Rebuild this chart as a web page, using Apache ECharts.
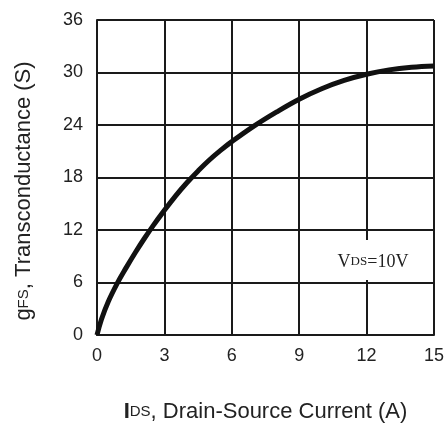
<!DOCTYPE html>
<html>
<head>
<meta charset="utf-8">
<script src="https://cdn.jsdelivr.net/npm/echarts@6/dist/echarts.min.js"></script>
<style>
  html, body { margin: 0; padding: 0; background: #fff; }
  #chart { width: 447px; height: 430px; }
</style>
</head>
<body>
<div id="chart"></div>
<script>
// drain current (A) and transconductance (S)
var currentA = [0, 0.2, 0.5, 0.9, 1.3, 1.7, 2.1, 2.5, 2.9, 3.5, 4.0, 4.5, 5.0, 5.5, 6, 7, 8, 9, 10, 11, 12, 13, 14, 15];
var gfsS = [0, 1.8, 3.8, 5.9, 7.7, 9.4, 11.0, 12.5, 13.9, 15.9, 17.4, 18.75, 20.0, 21.1, 22.1, 23.9, 25.5, 26.95, 28.15, 29.1, 29.8, 30.3, 30.6, 30.75];

var xTicks = [0, 3, 6, 9, 12, 15];
var yTicks = [0, 6, 12, 18, 24, 30, 36];

var points = [];
for (var i = 0; i < currentA.length; i++) {
  points.push([currentA[i], gfsS[i]]);
}

var chart = echarts.init(document.getElementById('chart'));
var lineColor = '#1a1a1a';
var sans = 'Liberation Sans, Arial, sans-serif';
var serif = 'Liberation Serif, Times New Roman, serif';

var option = {
  animation: false,
  backgroundColor: '#fff',
  grid: { left: 97, right: 12, top: 20, bottom: 95 },
  xAxis: {
    type: 'value',
    min: xTicks[0],
    max: xTicks[xTicks.length - 1],
    interval: 3,
    name: '{i|I}{s|DS}{t|, Drain-Source Current (A)}',
    nameLocation: 'middle',
    nameGap: 66,
    nameTextStyle: {
      rich: {
        i: { fontSize: 22, fontFamily: sans, fontWeight: 'bold', color: '#222' },
        s: { fontSize: 15, fontFamily: sans, color: '#222' },
        t: { fontSize: 22, fontFamily: sans, color: '#222' }
      }
    },
    axisLine: { lineStyle: { color: lineColor, width: 2 } },
    axisTick: { show: false },
    axisLabel: { margin: 12, fontSize: 18, fontFamily: sans, color: '#222' },
    splitLine: { show: true, lineStyle: { color: lineColor, width: 2 } }
  },
  yAxis: {
    type: 'value',
    min: yTicks[0],
    max: yTicks[yTicks.length - 1],
    interval: 6,
    axisLine: { show: true, lineStyle: { color: lineColor, width: 2 } },
    axisTick: { show: false },
    axisLabel: { margin: 14, fontSize: 18, fontFamily: sans, color: '#222' },
    splitLine: { show: true, lineStyle: { color: lineColor, width: 2 } }
  },
  graphic: [
    {
      type: 'text',
      x: 24,
      y: 191,
      rotation: Math.PI / 2,
      style: {
        text: '{g|g}{s|FS}{g|, Transconductance (S)}',
        align: 'center',
        verticalAlign: 'middle',
        rich: {
          g: { fontSize: 22, fontFamily: sans, fill: '#222' },
          s: { fontSize: 15, fontFamily: sans, fill: '#222' }
        }
      }
    },
    {
      type: 'rect',
      z: 10,
      shape: { x: 333, y: 240, width: 79, height: 40 },
      style: { fill: '#fff' }
    },
    {
      type: 'text',
      z: 11,
      x: 373,
      y: 262,
      style: {
        text: '{v|V}{s|DS}{v|=10V}',
        align: 'center',
        verticalAlign: 'middle',
        rich: {
          v: { fontSize: 18, fontFamily: serif, fill: '#222' },
          s: { fontSize: 13, fontFamily: serif, fill: '#222' }
        }
      }
    }
  ],
  series: [
    {
      type: 'line',
      data: points,
      smooth: 0.4,
      showSymbol: false,
      lineStyle: { color: '#111', width: 5 },
      z: 5
    }
  ]
};

chart.setOption(option);
</script>
</body>
</html>
